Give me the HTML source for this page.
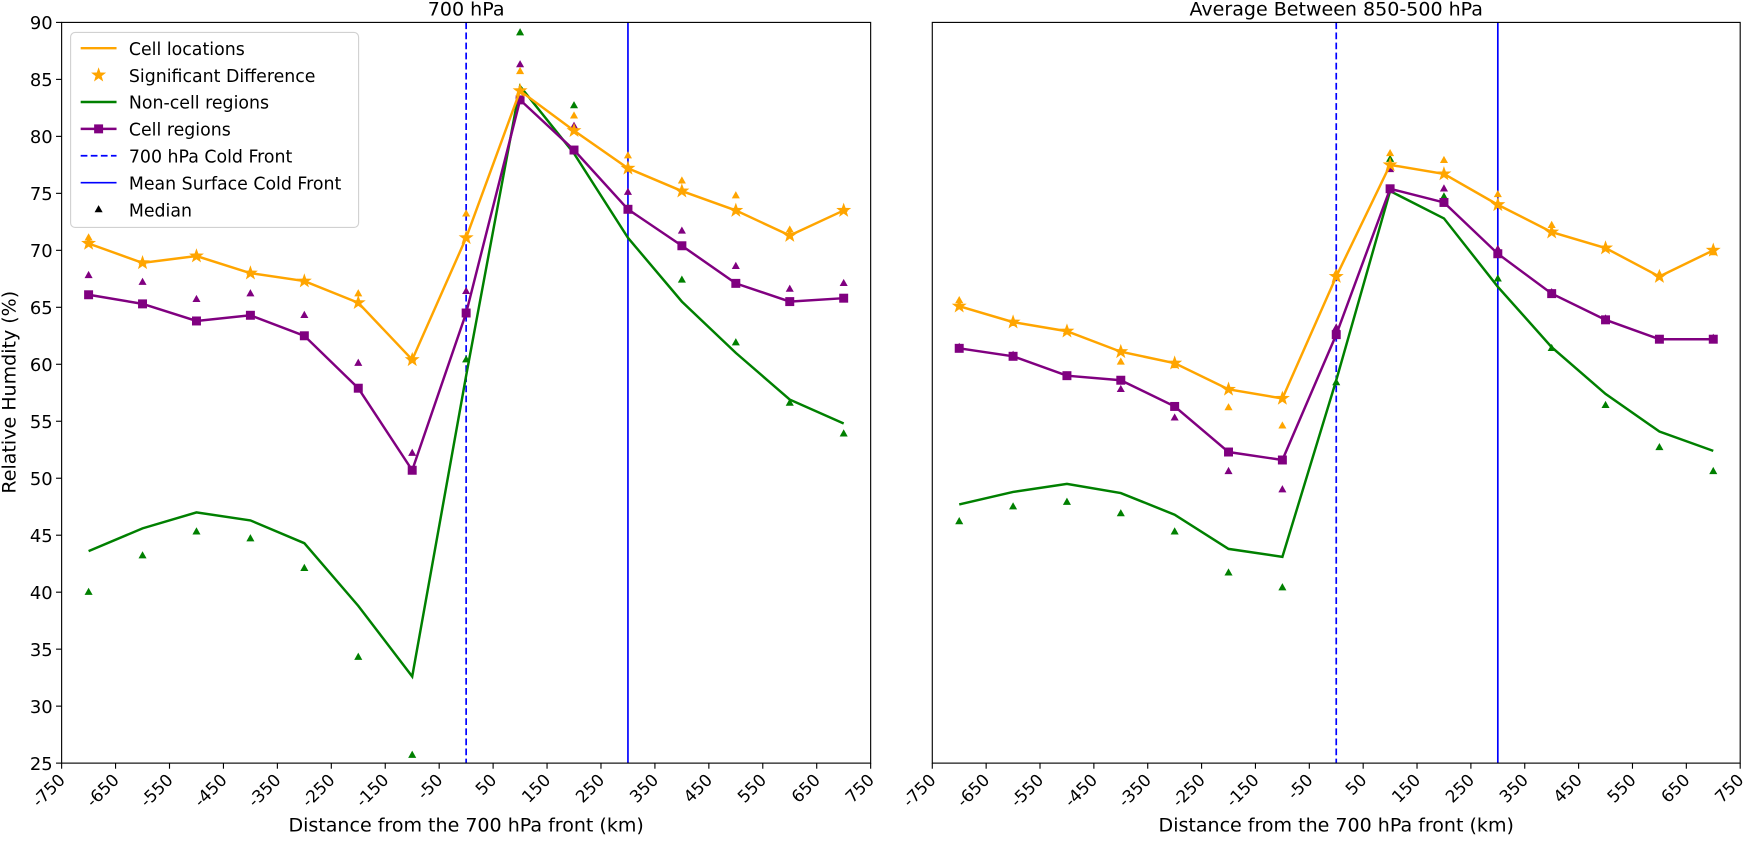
<!DOCTYPE html>
<html><head><meta charset="utf-8"><style>
body{margin:0;background:#fff;font-family:"Liberation Sans","DejaVu Sans",sans-serif;}
svg{display:block}
svg text{font-family:"DejaVu Sans","Liberation Sans",sans-serif;}
</style></head><body>
<svg id="chart" width="1757" height="841" viewBox="0 0 1568 750.5" preserveAspectRatio="none" xmlns="http://www.w3.org/2000/svg"></svg>
<script>
const xCats=[-700,-600,-500,-400,-300,-200,-100,0,100,200,300,400,500,600,700];
const xTicks=[-750,-650,-550,-450,-350,-250,-150,-50,50,150,250,350,450,550,650,750];
const yTicks=[25,30,35,40,45,50,55,60,65,70,75,80,85,90];
const titles=["700 hPa","Average Between 850-500 hPa"];
const frontDashed=0, frontSolid=300;
const L_orange=[70.6,68.9,69.5,68.0,67.3,65.4,60.4,71.1,84.0,80.5,77.2,75.2,73.5,71.3,73.5];
const L_purple=[66.1,65.3,63.8,64.3,62.5,57.9,50.7,64.5,83.2,78.8,73.6,70.4,67.1,65.5,65.8];
const L_green=[43.6,45.6,47.0,46.3,44.3,38.8,32.6,59.0,84.4,78.5,71.1,65.5,61.0,56.9,54.8];
const L_orangeMed=[71.1,69.0,69.6,68.1,67.4,66.2,60.5,73.2,85.7,81.8,78.3,76.1,74.8,71.8,73.6];
const L_purpleMed=[67.8,67.2,65.7,66.2,64.3,60.1,52.2,66.4,86.3,80.9,75.1,71.7,68.6,66.6,67.1];
const L_greenMed=[40.0,43.2,45.3,44.7,42.1,34.3,25.7,60.4,89.1,82.7,73.7,67.4,61.9,56.6,53.9];
const R_orange=[65.1,63.7,62.9,61.1,60.1,57.8,57.0,67.7,77.5,76.7,74.0,71.6,70.2,67.7,70.0];
const R_purple=[61.4,60.7,59.0,58.6,56.3,52.3,51.6,62.6,75.4,74.2,69.7,66.2,63.9,62.2,62.2];
const R_green=[47.7,48.8,49.5,48.7,46.8,43.8,43.1,58.6,75.2,72.8,66.8,61.5,57.4,54.1,52.4];
const R_orangeMed=[65.6,63.6,62.9,60.2,59.9,56.2,54.6,68.0,78.5,77.9,74.9,72.2,70.3,67.9,69.8];
const R_purpleMed=[61.5,60.8,59.0,57.8,55.3,50.6,49.0,63.2,77.1,75.4,70.1,66.3,64.0,62.2,62.3];
const R_greenMed=[46.2,47.5,47.9,46.9,45.3,41.7,40.4,58.4,78.0,74.7,67.5,61.4,56.4,52.7,50.6];

const NS="http://www.w3.org/2000/svg";
const svg=document.getElementById('chart');
function mk(tag,attrs,parent){const e=document.createElementNS(NS,tag);for(const k in attrs)e.setAttribute(k,attrs[k]);(parent||svg).appendChild(e);return e;}
const OR="#ffa500",PU="#800080",GR="#008000",BL="#0000ff";
const plotTop=20,plotBot=681;
function yS(v){return plotBot-(v-25)/(90-25)*(plotBot-plotTop);}
function star(cx,cy,r){let p=[];for(let i=0;i<10;i++){const a=-Math.PI/2+i*Math.PI/5;const rr=i%2?r*0.4:r;p.push((cx+rr*Math.cos(a)).toFixed(1)+","+(cy+rr*Math.sin(a)).toFixed(1));}return p.join(" ");}
function tri(cx,cy,r){return `${cx},${cy-r} ${cx-r*0.9},${cy+r*0.6} ${cx+r*0.9},${cy+r*0.6}`;}

function panel(idx,x0,x1,orange,purple,green,oM,pM,gM){
  const g=mk('g',{});
  
  
  const xS=v=>x0+(v+750)/1500*(x1-x0);
  const fd=mk('line',{x1:xS(frontDashed),x2:xS(frontDashed),y1:plotTop,y2:plotBot,stroke:BL,'stroke-width':1.5,'stroke-dasharray':'6,3'},g);
  
  
  const fs=mk('line',{x1:xS(frontSolid),x2:xS(frontSolid),y1:plotTop,y2:plotBot,stroke:BL,'stroke-width':1.5},g);
  
  
  [[gM,GR],[pM,PU],[oM,OR]].forEach(([arr,c])=>arr.forEach((v,i)=>{const t=mk('polygon',{points:tri(xS(xCats[i]),yS(v),4),fill:c},g);
    
    }));
  const line=(arr,c,name)=>{const p=mk('polyline',{points:arr.map((v,i)=>xS(xCats[i])+","+yS(v)).join(" "),fill:'none',stroke:c,'stroke-width':2.2},g);
    
    };
  line(green,GR,'non-cell-regions-line');
  line(purple,PU,'cell-regions-line');
  purple.forEach((v,i)=>{const r=mk('rect',{x:xS(xCats[i])-4,y:yS(v)-4,width:8,height:8,fill:PU},g);
    
    });
  line(orange,OR,'cell-locations-line');
  orange.forEach((v,i)=>{const s=mk('polygon',{points:star(xS(xCats[i]),yS(v),7),fill:OR},g);
    
    });
  const fr=mk('rect',{x:x0,y:plotTop,width:x1-x0,height:plotBot-plotTop,fill:'none',stroke:'#000','stroke-width':1},g);
  
  
  xTicks.forEach(t=>{const x=xS(t);mk('line',{x1:x,x2:x,y1:plotBot,y2:plotBot+5,stroke:'#000'},g);
    const tx=mk('text',{x:x+4,y:plotBot+16,'font-size':15,'text-anchor':'end',transform:`rotate(-45 ${x+4} ${plotBot+16})`},g);tx.textContent=t;
    
    });
  if(idx===0){yTicks.forEach(t=>{const y=yS(t);mk('line',{x1:x0-5,x2:x0,y1:y,y2:y,stroke:'#000'},g);
    const tx=mk('text',{x:x0-8,y:y+6,'font-size':16,'text-anchor':'end'},g);tx.textContent=t;
    
    });}
  const xt=mk('text',{x:(x0+x1)/2,y:742,'font-size':17,'text-anchor':'middle'},g);xt.textContent="Distance from the 700 hPa front (km)";
  
  
  const tt=mk('text',{x:(x0+x1)/2,y:14,'font-size':17,'text-anchor':'middle'},g);tt.textContent=titles[idx];
  
  
}
panel(0,55,777,L_orange,L_purple,L_green,L_orangeMed,L_purpleMed,L_greenMed);
panel(1,832,1553,R_orange,R_purple,R_green,R_orangeMed,R_purpleMed,R_greenMed);
const yt=mk('text',{x:14,y:350,'font-size':17,'text-anchor':'middle',transform:'rotate(-90 14 350)'});yt.textContent="Relative Humdity (%)";


const lg=mk('g',{});


mk('rect',{x:63,y:29,width:257,height:174,rx:4,fill:'#fff',stroke:'#ccc','stroke-opacity':0.9},lg);
const items=[["Cell locations","line",OR],["Significant Difference","star",OR],["Non-cell regions","line",GR],["Cell regions","sq",PU],["700 hPa Cold Front","dash",BL],["Mean Surface Cold Front","thin",BL],["Median","tri","#000"]];
items.forEach((it,i)=>{const y=43+i*24;const sx=72,ex=104,cx=88;
  if(it[1]==="line"||it[1]==="sq")mk('line',{x1:sx,x2:ex,y1:y,y2:y,stroke:it[2],'stroke-width':2.2},lg);
  if(it[1]==="sq")mk('rect',{x:cx-4,y:y-4,width:8,height:8,fill:it[2]},lg);
  if(it[1]==="star")mk('polygon',{points:star(cx,y,7),fill:it[2]},lg);
  if(it[1]==="dash")mk('line',{x1:sx,x2:ex,y1:y,y2:y,stroke:it[2],'stroke-width':1.5,'stroke-dasharray':'6,3'},lg);
  if(it[1]==="thin")mk('line',{x1:sx,x2:ex,y1:y,y2:y,stroke:it[2],'stroke-width':1.5},lg);
  if(it[1]==="tri")mk('polygon',{points:tri(cx,y,4),fill:it[2]},lg);
  const t=mk('text',{x:115,y:y+6,'font-size':15.5},lg);t.textContent=it[0];
  
  
});
</script>
</body></html>
